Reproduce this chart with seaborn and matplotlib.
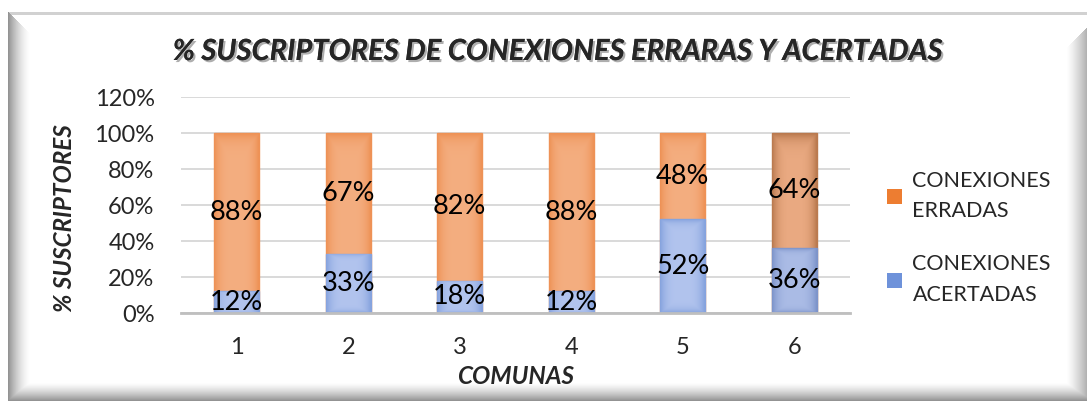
import numpy as np
import pandas as pd
import matplotlib
matplotlib.use("Agg")
import matplotlib.pyplot as plt
import matplotlib.patheffects as pe
from matplotlib.patches import Patch
import seaborn as sns

# ---- data ----
comunas = ["1", "2", "3", "4", "5", "6"]
acertadas = [12, 33, 18, 12, 52, 36]      # % conexiones acertadas
erradas = [88, 67, 82, 88, 48, 64]        # % conexiones erradas
yticks = [0, 20, 40, 60, 80, 100, 120]

title = "% SUSCRIPTORES DE CONEXIONES ERRARAS Y ACERTADAS"
xlabel = "COMUNAS"
ylabel = "% SUSCRIPTORES"
lbl_err = "CONEXIONES\nERRADAS"
lbl_ace = "CONEXIONES\nACERTADAS"

df = pd.DataFrame({
    "comuna": comunas,
    "acertadas": np.array(acertadas) / 100,
    "erradas": np.array(erradas) / 100,
})
df["total"] = df["acertadas"] + df["erradas"]

sns.set_theme(style="white")
plt.rcParams["font.family"] = ["Lato", "DejaVu Sans"]

W, H = 1088, 405
fig = plt.figure(figsize=(W / 100, H / 100), dpi=100)

# ---- framed background with soft bevel shadow ----
bg = fig.add_axes([0, 0, 1, 1], zorder=-10)
yy, xx = np.mgrid[0:H, 0:W].astype(float)
L, T, R, B = 8, 12, 1086, 400
left = np.clip(1 - (xx - L) / 22, 0, 1) ** 1.6 * 0.42
right = np.clip((xx - (R - 20)) / 20, 0, 1) ** 1.3 * 0.30
bottom = np.clip((yy - (B - 18)) / 18, 0, 1) ** 1.4 * 0.42
top = np.where((yy >= T) & (yy < T + 3), 0.18, 0.0)
left = np.where((yy - T) >= (xx - L), left, 0)
right = np.where((yy - T - 16) >= (R - xx), right, 0)
dark = np.maximum.reduce([left, right, bottom, top])
inside = (xx >= L) & (xx <= R) & (yy >= T) & (yy <= B)
dark = np.where(inside, dark, 0)
img = np.repeat((1 - dark)[:, :, None], 3, axis=2)
bg.imshow(img, extent=[0, W, H, 0], aspect="auto", interpolation="bilinear")
bg.set_xlim(0, W)
bg.set_ylim(H, 0)
bg.axis("off")

# ---- main axes ----
ax = fig.add_axes([181 / W, (H - 313) / H, 669 / W, 216 / H])
ax.patch.set_alpha(0)

orange_fc = ["#F4AE80"] * 5 + ["#EAAA82"]
orange_ec = ["#EE9256"] * 5 + ["#BA7A4F"]
blue_fc = ["#B2C4EE"] * 5 + ["#ABBCE6"]
blue_ec = ["#86A3DE"] * 5 + ["#7D94CA"]

sns.barplot(data=df, x="comuna", y="total", color="#F4AE80", width=0.4,
            ax=ax, saturation=1, zorder=3)
n_or = len(ax.patches)
sns.barplot(data=df, x="comuna", y="acertadas", color="#B2C4EE", width=0.4,
            ax=ax, saturation=1, zorder=4)

patches = list(ax.patches)
or_patches = patches[:n_or]
bl_patches = patches[n_or:]


def shade(patch, fc, ec, z):
    patch.set_facecolor(fc)
    patch.set_edgecolor(ec)
    patch.set_linewidth(1.0)
    x0, y0 = patch.get_x(), patch.get_y()
    w, h = patch.get_width(), patch.get_height()
    u = np.linspace(-1, 1, 60)
    v = np.linspace(-1, 1, 120)
    U, V = np.meshgrid(u, v)
    t = np.maximum(np.abs(U) ** 3.5, np.abs(V) ** 12)
    c1 = np.array(matplotlib.colors.to_rgb(fc))
    c2 = np.array(matplotlib.colors.to_rgb(ec))
    grad = c1[None, None, :] * (1 - t[..., None]) + c2[None, None, :] * t[..., None]
    im = ax.imshow(grad, extent=[x0, x0 + w, y0, y0 + h], aspect="auto",
                   origin="lower", zorder=z, interpolation="bilinear")
    im.set_clip_path(patch)


for p, fc, ec in zip(or_patches, orange_fc, orange_ec):
    shade(p, fc, ec, 3.5)
for p, fc, ec in zip(bl_patches, blue_fc, blue_ec):
    shade(p, fc, ec, 4.5)

# value labels centred in each segment
for i, (a, e) in enumerate(zip(acertadas, erradas)):
    ax.text(i, a / 200, f"{a}%", ha="center", va="center", fontsize=19.5,
            color="black", zorder=6)
    ax.text(i, a / 100 + e / 200, f"{e}%", ha="center", va="center",
            fontsize=19.5, color="black", zorder=6)

ax.set_xlim(-0.5, len(comunas) - 0.5)
ax.set_ylim(0, 1.2)
ax.set_yticks([v / 100 for v in yticks])
ax.set_yticklabels([f"{v}%" for v in yticks], fontsize=17)
ax.set_xticks(range(len(comunas)))
ax.set_xticklabels(comunas, fontsize=17)
ax.tick_params(axis="y", pad=19, length=0)
ax.tick_params(axis="x", pad=17, length=0)
ax.grid(axis="y", color="#D9D9D9", linewidth=1.4, zorder=0)
ax.set_axisbelow(True)
for s in ["top", "right", "left"]:
    ax.spines[s].set_visible(False)
ax.spines["bottom"].set_color("#BFBFBF")
ax.spines["bottom"].set_linewidth(2)
ax.spines["bottom"].set_zorder(7)

ax.set_xlabel("")
ax.set_ylabel("")
fig.text(516 / W, 1 - 377 / H, xlabel, ha="center", va="center",
         fontsize=17.5, fontweight="bold", fontstyle="italic")
fig.text(64 / W, 1 - 218 / H, ylabel, ha="center", va="center",
         rotation=90, fontsize=17.5, fontweight="bold", fontstyle="italic")

shadow = [pe.withSimplePatchShadow(offset=(1.5, -1.5), shadow_rgbFace="#9A9A9A",
                                   alpha=0.8), pe.Normal()]
fig.text(557 / W, 1 - 52 / H, title, ha="center", va="center", fontsize=21,
         fontweight="bold", fontstyle="italic", path_effects=shadow)

handles = [Patch(facecolor="#ED7D31", edgecolor="none", label=lbl_err),
           Patch(facecolor="#6E92DA", edgecolor="none", label=lbl_ace)]
leg = fig.legend(handles=handles, loc="upper left",
                 bbox_to_anchor=(878 / W, 1 - 162 / H), frameon=False,
                 fontsize=15.5, handlelength=0.7, handleheight=0.7,
                 handletextpad=0.5, labelspacing=1.55, borderaxespad=0)
for t in leg.get_texts():
    t.set_linespacing(1.65)

fig.savefig("out.png", dpi=100)
